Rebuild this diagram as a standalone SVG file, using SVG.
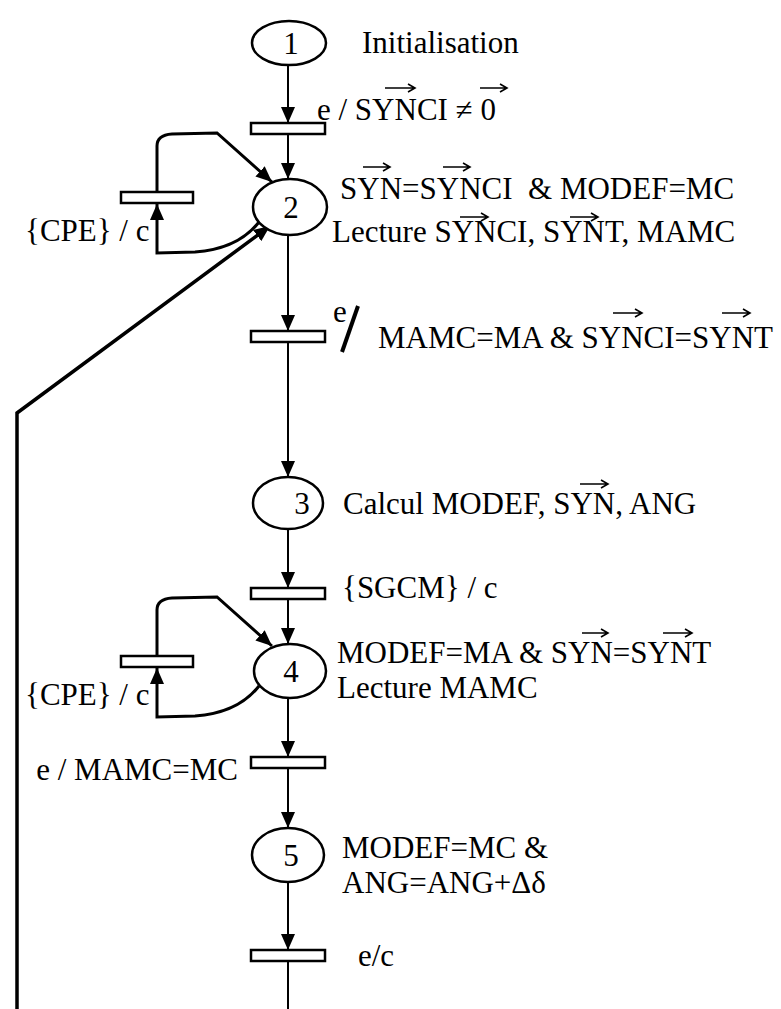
<svg xmlns="http://www.w3.org/2000/svg" width="781" height="1009" viewBox="0 0 781 1009">
<defs>
<style>
.ln{stroke:#000;stroke-width:2;fill:none}
.lp{stroke:#000;stroke-width:3;fill:none}
.rt{stroke:#000;stroke-width:3.5;fill:none}
.pl{fill:#fff;stroke:#000;stroke-width:2.5}
.tr{fill:#fff;stroke:#000;stroke-width:2.5}
.vec{stroke:#000;stroke-width:1.6;fill:none}
text{font-family:"Liberation Serif","Times New Roman",serif;font-size:31px;fill:#000;white-space:pre}
.num{text-anchor:middle}
</style>
<marker id="ah" markerWidth="16" markerHeight="14" refX="16" refY="7" orient="auto" markerUnits="userSpaceOnUse"><path d="M0,0 L16,7 L0,14 z" fill="#000"/></marker>
</defs>
<rect width="781" height="1009" fill="#fff"/>
<g id="connectors">
<path class="ln" d="M288,65 V123" marker-end="url(#ah)"/>
<path class="ln" d="M288,134 V179" marker-end="url(#ah)"/>
<path class="ln" d="M288,235 V331" marker-end="url(#ah)"/>
<path class="ln" d="M288,342 V477" marker-end="url(#ah)"/>
<path class="ln" d="M288,529 V588" marker-end="url(#ah)"/>
<path class="ln" d="M288,599 V644" marker-end="url(#ah)"/>
<path class="ln" d="M288,698 V757" marker-end="url(#ah)"/>
<path class="ln" d="M288,768 V828" marker-end="url(#ah)"/>
<path class="ln" d="M288,882 V950" marker-end="url(#ah)"/>
<path class="ln" d="M288,961 V1009"/>
<path class="lp" d="M157,192 V146 Q157,135 172,134 L217,133 L272,182" marker-end="url(#ah)"/>
<path class="lp" d="M259,222 C245,240 225,250 195,252 L157,253 V204" marker-end="url(#ah)"/>
<path class="lp" d="M157,656 V610 Q157,599 172,598 L217,597 L272,646" marker-end="url(#ah)"/>
<path class="lp" d="M259,686 C245,704 225,714 195,716 L157,717 V668" marker-end="url(#ah)"/>
<path class="rt" d="M17,1009 V413 L270,226" marker-end="url(#ah)"/>
</g>
<g id="place1"><ellipse class="pl" cx="289" cy="43" rx="37" ry="22"/><text class="num" x="291" y="54">1</text><text x="362" y="53">Initialisation</text></g>
<g id="t1"><rect class="tr" x="251" y="123" width="74" height="11"/><text x="317" y="120">e / SYNCI ≠ 0</text><path class="vec" d="M385,88 H415 M408,84 L415,88 L408,92 M480,88 H507 M500,84 L507,88 L500,92"/></g>
<g id="place2"><ellipse class="pl" cx="290" cy="207" rx="37" ry="28"/><text class="num" x="291" y="218">2</text>
<text x="340" y="199">SYN=SYNCI  &amp; MODEF=MC</text>
<path class="vec" d="M363,167 H390 M383,163 L390,167 L383,171 M443,167 H470 M463,163 L470,167 L463,171"/>
<text x="332" y="242">Lecture SYNCI, SYNT, MAMC</text>
<path class="vec" d="M460,217 H488 M481,213 L488,217 L481,221 M570,217 H598 M591,213 L598,217 L591,221"/></g>
<g id="t_loop2"><rect class="tr" x="121" y="192" width="72" height="11"/><text x="25" y="241">{CPE} / c</text></g>
<g id="t2"><rect class="tr" x="251" y="331" width="74" height="11"/><text x="333" y="322">e</text><path d="M342,352 L358,306" stroke="#000" stroke-width="4"/><text x="378" y="348">MAMC=MA &amp; SYNCI=SYNT</text>
<path class="vec" d="M613,313 H642 M635,309 L642,313 L635,317 M722,313 H750 M743,309 L750,313 L743,317"/></g>
<g id="place3"><ellipse class="pl" cx="288" cy="503" rx="35" ry="26"/><text class="num" x="302" y="514">3</text><text x="343" y="514">Calcul MODEF, SYN, ANG</text>
<path class="vec" d="M580,484 H608 M601,480 L608,484 L601,488"/></g>
<g id="t3"><rect class="tr" x="251" y="588" width="74" height="11"/><text x="342" y="598">{SGCM} / c</text></g>
<g id="place4"><ellipse class="pl" cx="290" cy="671" rx="36" ry="27"/><text class="num" x="291" y="682">4</text>
<text x="337" y="663">MODEF=MA &amp; SYN=SYNT</text>
<path class="vec" d="M582,633 H608 M601,629 L608,633 L601,637 M663,633 H692 M685,629 L692,633 L685,637"/>
<text x="337" y="698">Lecture MAMC</text></g>
<g id="t_loop4"><rect class="tr" x="121" y="656" width="72" height="11"/><text x="25" y="705">{CPE} / c</text></g>
<g id="t4"><rect class="tr" x="251" y="757" width="74" height="11"/><text x="238" y="780" text-anchor="end">e / MAMC=MC</text></g>
<g id="place5"><ellipse class="pl" cx="288" cy="855" rx="36" ry="27"/><text class="num" x="291" y="866">5</text><text x="342" y="858">MODEF=MC &amp;</text><text x="342" y="893">ANG=ANG+Δδ</text></g>
<g id="t5"><rect class="tr" x="251" y="950" width="74" height="11"/><text x="358" y="966">e/c</text></g>
</svg>
